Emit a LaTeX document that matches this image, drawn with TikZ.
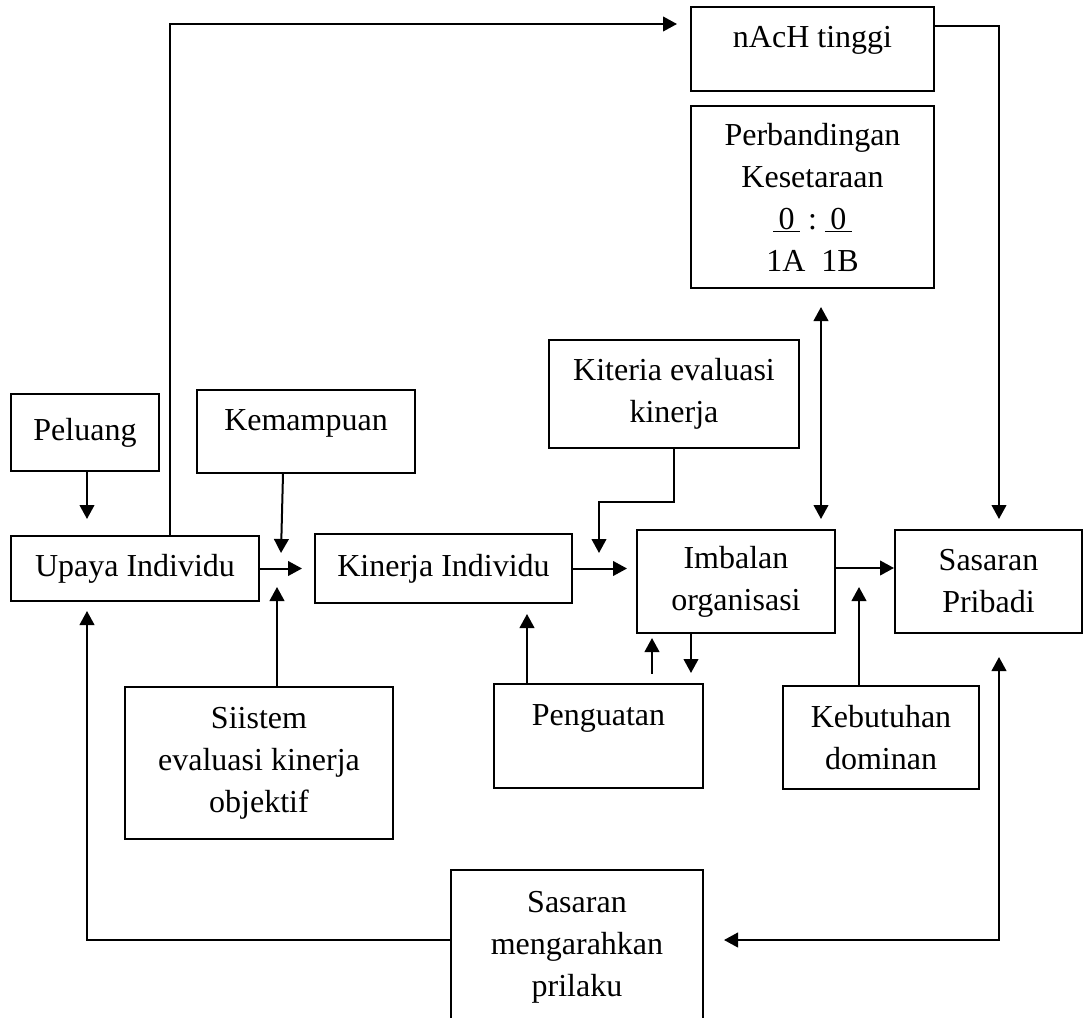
\documentclass[tikz,border=0pt]{standalone}
\usepackage{fontspec}
\setmainfont{Liberation Serif}
\usetikzlibrary{arrows.meta}

\tikzset{every picture/.style={line width=1.5pt}}
\tikzset{
  kotak/.style={draw, rectangle, inner sep=0pt, align=center, font=\fontsize{24pt}{31.5pt}\selectfont},
  ukuran/.style 2 args={minimum width=#1*0.75pt, minimum height=#2*0.75pt},
  panah/.style={-{Triangle[length=10.5pt,width=11pt]}},
  panahdua/.style={{Triangle[length=10.5pt,width=11pt]}-{Triangle[length=10.5pt,width=11pt]}}
}

\begin{document}
\begin{tikzpicture}[x=0.75pt,y=0.75pt,yscale=-1,xscale=1]
	\useasboundingbox (0,0) rectangle (1090,1018);

	%Shape: Rectangle
	\node[kotak, ukuran={243}{84}, text height=30pt, text depth=33pt] (nach) at (812.5,49) {nAcH tinggi};
	%Shape: Rectangle
	\node[kotak, ukuran={243}{182}] (banding) at (812.5,197) {Perbandingan\\Kesetaraan\\\underline{\,0\,}\ :\ \underline{\,0\,}\\1A\ \ 1B};
	%Shape: Rectangle
	\node[kotak, ukuran={250}{108}] (kiteria) at (674,394) {Kiteria evaluasi\\kinerja};
	%Shape: Rectangle
	\node[kotak, ukuran={148}{77}] (peluang) at (85,432.5) {Peluang};
	%Shape: Rectangle
	\node[kotak, ukuran={218}{83}, text height=30pt, text depth=32.25pt] (kemampuan) at (306,431.5) {Kemampuan};
	%Shape: Rectangle
	\node[kotak, ukuran={248}{65}] (upaya) at (135,568.5) {Upaya Individu};
	%Shape: Rectangle
	\node[kotak, ukuran={257}{69}] (kinerja) at (443.5,568.5) {Kinerja Individu};
	%Shape: Rectangle
	\node[kotak, ukuran={198}{103}] (imbalan) at (736,581.5) {Imbalan\\organisasi};
	%Shape: Rectangle
	\node[kotak, ukuran={187}{103}] (sasaran) at (988.5,581.5) {Sasaran\\Pribadi};
	%Shape: Rectangle
	\node[kotak, ukuran={268}{152}] (siistem) at (259,763) {Siistem\\evaluasi kinerja\\objektif};
	%Shape: Rectangle
	\node[kotak, ukuran={209}{104}, text height=30.75pt, text depth=47.25pt] (penguatan) at (598.5,736) {Penguatan};
	%Shape: Rectangle
	\node[kotak, ukuran={196}{103}] (kebutuhan) at (881,737.5) {Kebutuhan\\dominan};
	%Shape: Rectangle
	\node[kotak, ukuran={252}{190}] (arah) at (577,965) {Sasaran\\mengarahkan\\prilaku\\\mbox{}};

	%Straight Lines
	\coordinate (nachin) at (677,24);
	\draw[panah] (upaya.north -| 170,0) |- (nachin);
	%Straight Lines
	\coordinate (sasaranin) at (999,519);
	\draw[panah] (nach.east |- 0,26) -| (sasaranin);
	%Straight Lines
	\coordinate (bandingout) at (821,307);
	\coordinate (imbalanin) at (821,519);
	\draw[panahdua] (bandingout) -- (imbalanin);
	%Straight Lines
	\coordinate (upayain) at (87,519);
	\draw[panah] (peluang.south -| upayain) -- (upayain);
	%Straight Lines
	\coordinate (mampuin) at (281,553);
	\draw[panah] (kemampuan.south -| 283,0) -- (mampuin);
	%Straight Lines
	\coordinate (upayaout) at (302,568.5);
	\draw[panah] (upaya.east) -- (upayaout);
	%Straight Lines
	\coordinate (siistemin) at (277,587);
	\draw[panah] (siistem.north -| siistemin) -- (siistemin);
	%Straight Lines
	\coordinate (kiteriain) at (599,553);
	\draw[panah] (kiteria.south) -- ++(0,53) -| (kiteriain);
	%Straight Lines
	\coordinate (kinerjaout) at (627,568.5);
	\draw[panah] (kinerja.east) -- (kinerjaout);
	%Straight Lines
	\draw[panah] (imbalan.east |- 0,568) -- (sasaran.west |- 0,568);
	%Straight Lines
	\coordinate (butuhin) at (859,587);
	\draw[panah] (kebutuhan.north -| butuhin) -- (butuhin);
	%Straight Lines
	\coordinate (kinerjain) at (527,614);
	\draw[panah] (penguatan.north -| kinerjain) -- (kinerjain);
	%Straight Lines
	\coordinate (kuatin) at (652,638);
	\draw[panah, shorten <=7pt] (penguatan.north -| kuatin) -- (kuatin);
	%Straight Lines
	\coordinate (kuatout) at (691,673);
	\draw[panah] (imbalan.south -| kuatout) -- (kuatout);
	%Straight Lines
	\coordinate (upayabawah) at (87,611);
	\draw[panah] (arah.west |- 0,940) -| (upayabawah);
	%Straight Lines
	\coordinate (arahin) at (724,940);
	\coordinate (pribadibawah) at (999,657);
	\draw[panahdua] (arahin) -| (pribadibawah);

\end{tikzpicture}
\end{document}
